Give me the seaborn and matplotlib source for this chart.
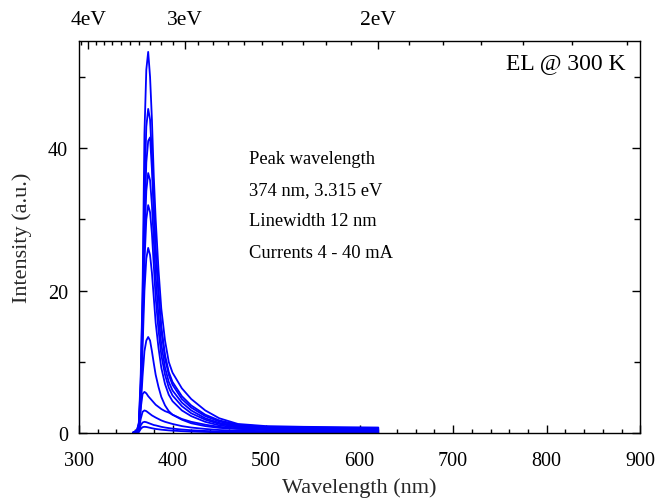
import numpy as np
import pandas as pd
import matplotlib
matplotlib.use("Agg")
import matplotlib.pyplot as plt
import seaborn as sns
from matplotlib.ticker import MultipleLocator, FixedLocator

# ---------------- data ----------------
wavelength = [358, 362, 364, 366, 368, 370, 372, 374, 376, 378, 380, 382, 385,
              388, 392, 396, 400, 410, 420, 435, 450, 470, 500, 540, 580, 620]

i_01 = [0.02, 0.05, 0.15, 0.6, 0.85, 0.9, 0.88, 0.82, 0.76, 0.7, 0.65, 0.6, 0.55,
        0.5, 0.45, 0.4, 0.36, 0.29, 0.23, 0.18, 0.14, 0.12, 0.1, 0.08, 0.07, 0.06]
i_02 = [0.03, 0.08, 0.25, 1.1, 1.5, 1.6, 1.55, 1.45, 1.35, 1.25, 1.15, 1.1, 1.0,
        0.9, 0.8, 0.72, 0.65, 0.52, 0.42, 0.32, 0.25, 0.2, 0.18, 0.15, 0.13, 0.12]
i_03 = [0.05, 0.12, 0.4, 2.0, 3.0, 3.2, 3.1, 2.9, 2.7, 2.5, 2.35, 2.2, 2.0,
        1.8, 1.6, 1.45, 1.3, 1.0, 0.8, 0.6, 0.45, 0.36, 0.3, 0.26, 0.23, 0.2]
i_04 = [0.05, 0.15, 0.5, 3.5, 5.5, 5.8, 5.6, 5.2, 4.9, 4.6, 4.3, 4.0, 3.7,
        3.4, 3.1, 2.9, 2.6, 2.0, 1.6, 1.2, 0.9, 0.65, 0.45, 0.38, 0.33, 0.3]
i_05 = [0.08, 0.2, 0.6, 3.5, 8.0, 11.5, 13.0, 13.5, 13.0, 11.5, 9.8, 8.2, 6.5,
        5.1, 3.9, 3.1, 2.6, 1.9, 1.4, 1.0, 0.75, 0.6, 0.5, 0.45, 0.4, 0.37]
i_06 = [0.08, 0.25, 0.8, 4.5, 12.0, 20.0, 24.5, 26.0, 25.0, 22.5, 19.0, 15.5, 12.0,
        9.2, 6.9, 5.4, 4.5, 3.2, 2.4, 1.6, 1.1, 0.8, 0.6, 0.55, 0.5, 0.46]
i_07 = [0.1, 0.3, 0.9, 5.0, 14.0, 24.0, 30.0, 32.0, 31.0, 28.0, 23.5, 19.0, 14.5,
        11.0, 8.2, 6.4, 5.3, 3.8, 2.8, 1.9, 1.3, 0.9, 0.7, 0.62, 0.57, 0.53]
i_08 = [0.1, 0.3, 1.0, 5.5, 15.0, 27.0, 34.0, 36.5, 35.5, 32.0, 27.0, 22.0, 16.5,
        12.5, 9.2, 7.2, 6.0, 4.3, 3.2, 2.1, 1.45, 1.0, 0.8, 0.7, 0.65, 0.6]
i_09 = [0.1, 0.35, 1.1, 6.0, 16.0, 29.0, 38.0, 41.0, 41.5, 37.0, 31.0, 25.5, 19.5,
        14.5, 10.5, 8.2, 6.8, 4.8, 3.6, 2.4, 1.65, 1.1, 0.85, 0.75, 0.7, 0.65]
i_10 = [0.1, 0.4, 1.3, 7.0, 19.0, 34.0, 43.0, 45.5, 44.0, 39.0, 32.0, 26.0, 20.0,
        15.0, 11.0, 8.6, 7.2, 5.2, 3.9, 2.6, 1.8, 1.2, 0.9, 0.8, 0.75, 0.72]
i_11 = [0.1, 0.4, 1.5, 8.0, 20.0, 42.0, 51.0, 53.5, 50.0, 44.0, 36.0, 30.0, 23.0,
        17.5, 13.0, 10.0, 8.5, 6.3, 4.8, 3.2, 2.1, 1.3, 1.0, 0.9, 0.85, 0.8]

currents = [4, 6, 8, 12, 16, 20, 24, 28, 32, 36, 40]
spectra = [i_01, i_02, i_03, i_04, i_05, i_06, i_07, i_08, i_09, i_10, i_11]

x_major = [300, 400, 500, 600, 700, 800, 900]
y_major = [0, 20, 40]
y_minor = [10, 30, 50]
ev_major = [4, 3, 2]
ev_major_labels = ["4eV", "3eV", "2eV"]
ev_minor = [4.1, 3.9, 3.8, 3.7, 3.6, 3.5, 3.4, 3.3, 3.2, 3.1,
            2.9, 2.8, 2.7, 2.6, 2.5, 2.4, 2.3, 2.2, 2.1,
            1.9, 1.8, 1.7, 1.6, 1.5, 1.4]

text_lines = ["Peak wavelength", "374 nm, 3.315 eV", "Linewidth 12 nm", "Currents 4 - 40 mA"]

# ---------------- build table ----------------
rows = []
for c, s in zip(currents, spectra):
    for w, v in zip(wavelength, s):
        rows.append({"wl": w, "I": v, "current": c})
df = pd.DataFrame(rows)

# ---------------- plot ----------------
sns.set_theme(style="white")
plt.rcParams["font.family"] = ["Liberation Serif", "DejaVu Serif"]

fig = plt.figure(figsize=(6.58, 5.02), dpi=100)
ax = fig.add_axes([0.120, 0.135, 0.853, 0.781])

sns.lineplot(data=df, x="wl", y="I", units="current", estimator=None,
             color="#0000FF", linewidth=1.3, ax=ax, legend=False)

ax.set_xlim(300, 900)
ax.set_ylim(0, 55)
ax.xaxis.set_major_locator(FixedLocator(x_major))
ax.xaxis.set_minor_locator(MultipleLocator(20))
ax.yaxis.set_major_locator(FixedLocator(y_major))
ax.yaxis.set_minor_locator(FixedLocator(y_minor))
ax.tick_params(which="both", direction="in", bottom=True, left=True, right=True,
               top=False, colors="black", labelsize=14.5, width=1)
ax.tick_params(which="major", length=6)
ax.tick_params(axis="x", which="major", pad=13)
ax.tick_params(axis="y", which="major", pad=8)
ax.tick_params(which="minor", length=3)
ax.tick_params(axis="y", which="minor", length=4)
for sp in ax.spines.values():
    sp.set_color("black")
    sp.set_linewidth(1.0)

ax.set_xlabel("Wavelength (nm)", fontsize=16, labelpad=5)
ax.set_ylabel("Intensity (a.u.)", fontsize=16)
ax.yaxis.set_label_coords(-0.084, 0.5)

# top energy axis
top = ax.twiny()
top.set_xlim(ax.get_xlim())
top.xaxis.set_major_locator(FixedLocator([1240.0 / e for e in ev_major]))
top.set_xticklabels(ev_major_labels)
top.xaxis.set_minor_locator(FixedLocator([1240.0 / e for e in ev_minor]))
top.tick_params(which="both", direction="in", top=True, bottom=False,
                colors="black", labelsize=15.5, width=1)
top.tick_params(which="major", length=6, pad=9)
top.tick_params(which="minor", length=3)
top.grid(False)
for sp in top.spines.values():
    sp.set_visible(False)

# annotations
y0 = 38.6
for k, t in enumerate(text_lines):
    ax.text(482, y0 - k * 4.4, t, fontsize=13.3, ha="left", va="center", color="black")
ax.text(884, 52, "EL @ 300 K", fontsize=17, ha="right", va="center", color="black")

fig.savefig("out.png", dpi=100)
